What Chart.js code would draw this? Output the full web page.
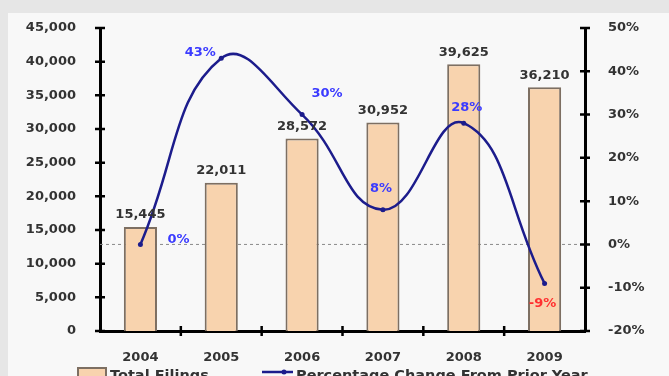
<!DOCTYPE html>
<html>
<head>
<meta charset="utf-8">
<script src="https://cdn.jsdelivr.net/npm/chart.js@4.4.1/dist/chart.umd.min.js"></script>
<style>
    html, body { margin: 0; padding: 0; background: #e6e6e6; overflow: hidden; }
    canvas { display: block; }
</style>
</head>
<body>
<canvas id="chart" width="669" height="376"></canvas>
<script>
const years = ["2004", "2005", "2006", "2007", "2008", "2009"];
const totalFilings = [15445, 22011, 28572, 30952, 39625, 36210];
const pctChange = [0, 43, 30, 8, 28, -9];
const filingsTicks = [0, 5000, 10000, 15000, 20000, 25000, 30000, 35000, 40000, 45000];
const pctTicks = [-20, -10, 0, 10, 20, 30, 40, 50];

// where each % label sits relative to its point
const pctLabelOffset = [[38, -5], [-21, -6], [25, -21], [-2, -21], [3, -16], [-2, 20]];

const FONT = "DejaVu Sans";
const TEXT = "#333333";
const BAR_FILL = "#f8d3ae";
const BAR_EDGE = "#7d6f62";
const LINE = "#1c1c8c";

const decorations = {
    id: "decorations",
    beforeDraw(c) {
        const ctx = c.ctx;
        ctx.save();
        ctx.fillStyle = "#e6e6e6";
        ctx.fillRect(0, 0, c.width, c.height);
        ctx.fillStyle = "#f8f8f8";
        ctx.fillRect(8, 13, c.width - 8, c.height - 13);
        ctx.restore();
    },
    beforeDatasetsDraw(c) {
        const ctx = c.ctx;
        const y0 = c.scales.y2.getPixelForValue(0);
        ctx.save();
        ctx.strokeStyle = "#8a8a8a";
        ctx.lineWidth = 1;
        ctx.setLineDash([3, 3]);
        ctx.beginPath();
        ctx.moveTo(c.chartArea.left, y0);
        ctx.lineTo(c.chartArea.right, y0);
        ctx.stroke();
        ctx.restore();
    },
    afterDatasetsDraw(c) {
        const ctx = c.ctx;
        const area = c.chartArea;
        ctx.save();

        // axis tick marks crossing the axes
        ctx.strokeStyle = "#000";
        ctx.lineWidth = 2.5;
        ctx.beginPath();
        filingsTicks.forEach((v) => {
            const y = c.scales.y.getPixelForValue(v);
            ctx.moveTo(area.left - 5, y);
            ctx.lineTo(area.left + 5, y);
        });
        pctTicks.forEach((v) => {
            const y = c.scales.y2.getPixelForValue(v);
            ctx.moveTo(area.right - 5, y);
            ctx.lineTo(area.right + 5, y);
        });
        const step = (area.right - area.left) / years.length;
        for (let i = 1; i < years.length; i++) {
            const x = area.left + i * step;
            ctx.moveTo(x, area.bottom - 5);
            ctx.lineTo(x, area.bottom + 5);
        }
        ctx.stroke();

        // value labels over bars
        ctx.font = "bold 13px '" + FONT + "'";
        ctx.fillStyle = TEXT;
        ctx.textAlign = "center";
        ctx.textBaseline = "middle";
        c.getDatasetMeta(1).data.forEach((bar, i) => {
            ctx.fillText(totalFilings[i].toLocaleString("en-US"), bar.x, bar.y - 12);
        });

        // percentage labels
        c.getDatasetMeta(0).data.forEach((pt, i) => {
            ctx.fillStyle = pctChange[i] < 0 ? "#ff3030" : "#3b3bff";
            const [dx, dy] = pctLabelOffset[i];
            ctx.fillText(pctChange[i] + "%", pt.x + dx, pt.y + dy);
        });

        // legend (cut off by the bottom edge)
        ctx.font = "bold 14.5px '" + FONT + "'";
        ctx.textAlign = "left";
        ctx.fillStyle = BAR_FILL;
        ctx.strokeStyle = BAR_EDGE;
        ctx.lineWidth = 2;
        ctx.fillRect(78, 368, 28, 10);
        ctx.strokeRect(78, 368, 28, 10);
        ctx.fillStyle = TEXT;
        ctx.fillText("Total Filings", 110, 376);

        ctx.strokeStyle = LINE;
        ctx.lineWidth = 2.5;
        ctx.beginPath();
        ctx.moveTo(262, 372);
        ctx.lineTo(293, 372);
        ctx.stroke();
        ctx.fillStyle = LINE;
        ctx.beginPath();
        ctx.arc(284, 372, 2.5, 0, Math.PI * 2);
        ctx.fill();
        ctx.fillStyle = TEXT;
        ctx.fillText("Percentage Change From Prior Year", 296, 376);

        ctx.restore();
    }
};

const tickFont = { family: FONT, size: 13, weight: "bold" };

new Chart(document.getElementById("chart"), {
    data: {
        labels: years,
        datasets: [
            {
                type: "line",
                label: "Percentage Change From Prior Year",
                data: pctChange,
                yAxisID: "y2",
                borderColor: LINE,
                backgroundColor: LINE,
                borderWidth: 2.5,
                tension: 0.45,
                pointRadius: 2.5,
                pointBorderWidth: 0,
                order: 0,
            },
            {
                type: "bar",
                label: "Total Filings",
                data: totalFilings,
                yAxisID: "y",
                backgroundColor: BAR_FILL,
                borderColor: BAR_EDGE,
                borderWidth: 2,
                barPercentage: 0.41,
                categoryPercentage: 1,
                order: 1,
            },
        ],
    },
    options: {
        responsive: false,
        animation: false,
        devicePixelRatio: 1,
        layout: { padding: { top: 28, left: 0, right: 0, bottom: 0 } },
        plugins: {
            legend: { display: false },
            tooltip: { enabled: false },
        },
        scales: {
            x: {
                grid: { display: false },
                border: { color: "#000", width: 3 },
                ticks: { font: tickFont, color: TEXT, padding: 11 },
                afterFit: (s) => { s.height = 45; },
            },
            y: {
                position: "left",
                min: 0,
                max: 45000,
                grid: { display: false },
                border: { color: "#000", width: 3 },
                ticks: {
                    stepSize: 5000,
                    font: tickFont,
                    color: TEXT,
                    padding: 16,
                    callback: (v) => v.toLocaleString("en-US"),
                },
                afterFit: (s) => { s.width = 100; },
            },
            y2: {
                position: "right",
                min: -20,
                max: 50,
                grid: { display: false },
                border: { color: "#000", width: 3 },
                ticks: {
                    stepSize: 10,
                    font: tickFont,
                    color: TEXT,
                    padding: 15,
                    callback: (v) => v + "%",
                },
                afterFit: (s) => { s.width = 84; },
            },
        },
    },
    plugins: [decorations],
});
</script>
</body>
</html>
